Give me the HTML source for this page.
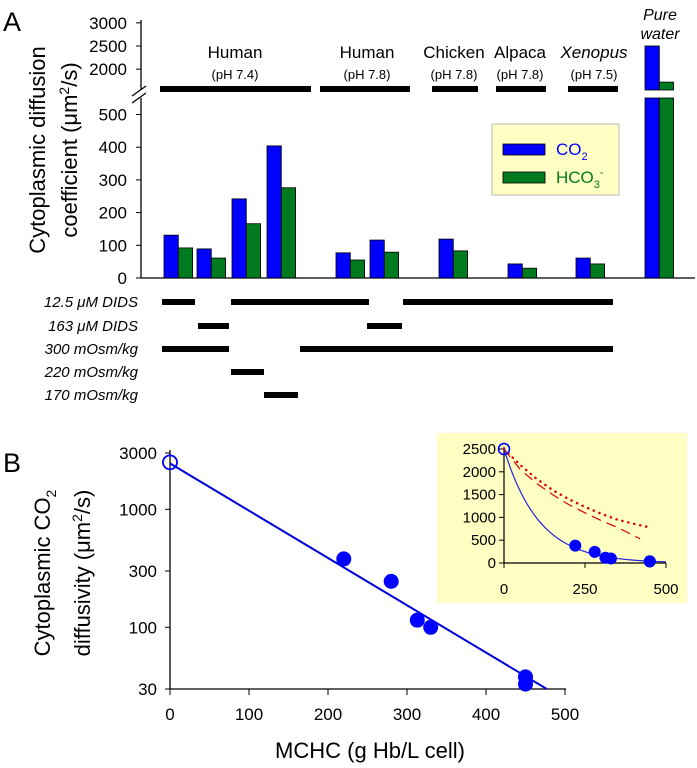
<!DOCTYPE html>
<html><head><meta charset="utf-8"><style>
html,body{margin:0;padding:0;background:#fff;}
svg{display:block;font-family:"Liberation Sans",Arial,sans-serif;}
</style></head><body>
<svg id="fig" width="697" height="768" viewBox="0 0 697 768" xmlns="http://www.w3.org/2000/svg">
<g id="pa"></g>
<g id="pb"></g>
<g id="pi"></g>
</svg>
<script>
// ---------- Panel A data ----------
const barGroupsX = [164,197,232,267,336,370,439,508,576,645]; // layout: left edge of each pair
const co2Values = [131,89,242,404,77,116,119,43,61,2500];
const hco3Values = [92,61,166,276,55,79,83,30,43,1720];
const lowerTicks = [0,100,200,300,400,500];
const upperTicks = [2000,2500,3000];
const groupLabels = ["Human","Human","Chicken","Alpaca","Xenopus"];
const groupSub = ["(pH 7.4)","(pH 7.8)","(pH 7.8)","(pH 7.8)","(pH 7.5)"];
const condLabels = ["12.5 \u03bcM DIDS","163 \u03bcM DIDS","300 mOsm/kg","220 mOsm/kg","170 mOsm/kg"];

// ---------- Panel B data ----------
const mchc = [220,280,313,330,450,450];
const dco2 = [380,245,115,100,38,33];
const waterPoint = [0,2500];
const bXTicks = [0,100,200,300,400,500];
const bYTicks = [30,100,300,1000,3000];
const fitLine = [[0,2450],[477,30]];
const insetXTicks = [0,250,500];
const insetYTicks = [0,500,1000,1500,2000,2500];
const insetDotted = [[0,2500],[50,2150],[100,1850],[150,1600],[200,1400],[250,1230],[300,1080],[350,950],[400,860],[450,780]];
const insetDashed = [[0,2500],[50,2050],[100,1750],[150,1500],[200,1280],[250,1100],[300,930],[350,780],[420,530]];

const NS="http://www.w3.org/2000/svg";
function el(parent,tag,attrs,text){const e=document.createElementNS(NS,tag);for(const k in attrs)e.setAttribute(k,attrs[k]);if(text!==undefined)e.textContent=text;parent.appendChild(e);return e;}

// ---------- Panel A ----------
const pa=document.getElementById('pa');
const yLow=v=>278-0.327*v;
const yUp=v=>46-(v-2500)*0.0463;
const BW=14.3;
let t=el(pa,'text',{x:3,y:31,'font-size':27},'A');

// y title
let yt=el(pa,'text',{transform:'translate(45,150) rotate(-90)','text-anchor':'middle','font-size':22},'Cytoplasmic diffusion');

let yt2=el(pa,'text',{transform:'translate(77,150) rotate(-90)','text-anchor':'middle','font-size':22});

yt2.innerHTML='coefficient (\u03bcm<tspan dy="-8" font-size="14">2</tspan><tspan dy="8">/s)</tspan>';
// axes
el(pa,'line',{x1:141,y1:98,x2:141,y2:278,stroke:'#000','stroke-width':1.3});
el(pa,'line',{x1:141,y1:20,x2:141,y2:90,stroke:'#000','stroke-width':1.3});
el(pa,'line',{x1:141,y1:278,x2:695,y2:278,stroke:'#000','stroke-width':1.3});
el(pa,'line',{x1:132,y1:96,x2:146,y2:86,stroke:'#000','stroke-width':1.3});
el(pa,'line',{x1:132,y1:103,x2:146,y2:93,stroke:'#000','stroke-width':1.3});
lowerTicks.forEach(v=>{el(pa,'line',{x1:136,y1:yLow(v),x2:141,y2:yLow(v),stroke:'#000'});
 const tx=el(pa,'text',{x:127,y:yLow(v)+6,'text-anchor':'end','font-size':17},String(v));
 });
upperTicks.forEach(v=>{el(pa,'line',{x1:136,y1:yUp(v),x2:141,y2:yUp(v),stroke:'#000'});
 const tx=el(pa,'text',{x:127,y:yUp(v)+6,'text-anchor':'end','font-size':17},String(v));
 });
// bars
function drawBar(x,v,color,name){
 if(v<=550){const r=el(pa,'rect',{x:x,y:yLow(v),width:BW,height:278-yLow(v),fill:color,stroke:'#000','stroke-width':0.8});
  }
 else{const r=el(pa,'rect',{x:x,y:98,width:BW,height:180,fill:color,stroke:'#000','stroke-width':0.8});
  
  const r2=el(pa,'rect',{x:x,y:yUp(v),width:BW,height:90-yUp(v),fill:color,stroke:'#000','stroke-width':0.8});
  }
}
barGroupsX.forEach((x,i)=>{drawBar(x,co2Values[i],'#0000ff','bar-co2');drawBar(x+BW,hco3Values[i],'#007a1e','bar-hco3');});
// group bars and labels
const grpSpans=[[160,311],[320,410],[432,478],[496,546],[568,618]];
grpSpans.forEach((s,i)=>{const r=el(pa,'rect',{x:s[0],y:86,width:s[1]-s[0],height:6,fill:'#000'});
 
 const c=[235,367,454,520,594][i];
 const a=el(pa,'text',{x:c,y:58,'text-anchor':'middle','font-size':17,'font-style':i===4?'italic':'normal'},groupLabels[i]);
 
 const b=el(pa,'text',{x:c,y:79,'text-anchor':'middle','font-size':13},groupSub[i]);
 });
let pw=el(pa,'text',{x:660,y:20,'text-anchor':'middle','font-size':16,'font-style':'italic'},'Pure');

let pw2=el(pa,'text',{x:660,y:39,'text-anchor':'middle','font-size':16,'font-style':'italic'},'water');

// legend
let lg=el(pa,'g',{});
el(lg,'rect',{x:492,y:124,width:127,height:71,fill:'#ffffc4',stroke:'#aaa','stroke-width':0.8});
el(lg,'rect',{x:503,y:144,width:42,height:11,fill:'#0000ff',stroke:'#000','stroke-width':0.8});
el(lg,'rect',{x:503,y:172,width:42,height:11,fill:'#007a1e',stroke:'#000','stroke-width':0.8});
let l1=el(lg,'text',{x:556,y:155,'font-size':17,fill:'#0000ff'});l1.innerHTML='CO<tspan dy="5" font-size="11">2</tspan>';

let l2=el(lg,'text',{x:556,y:183,'font-size':17,fill:'#007a1e'});l2.innerHTML='HCO<tspan dy="5" font-size="11">3</tspan><tspan dy="-12" font-size="11">-</tspan>';

// conditions
const condRowsY=[302,326,349,372,395];
const condSpans=[[[162,195],[231,369],[403,613]],[[198,229],[367,402]],[[162,229],[300,613]],[[231,264]],[[264,298]]];
condLabels.forEach((s,i)=>{const tx=el(pa,'text',{x:138,y:condRowsY[i]+5,'text-anchor':'end','font-size':15,'font-style':'italic'},s);
 
 condSpans[i].forEach(sp=>{const r=el(pa,'rect',{x:sp[0],y:condRowsY[i]-3,width:sp[1]-sp[0],height:6,fill:'#000'});
  });});

// ---------- Panel B ----------
const pb=document.getElementById('pb');
const bx=v=>170+0.79*v;
const by=v=>453+(Math.log10(3000)-Math.log10(v))*118;
let B=el(pb,'text',{x:3,y:472,'font-size':27},'B');
let bt=el(pb,'text',{transform:'translate(50,573) rotate(-90)','text-anchor':'middle','font-size':22});
bt.innerHTML='Cytoplasmic CO<tspan dy="6" font-size="14">2</tspan>';

let bt2=el(pb,'text',{transform:'translate(90,573) rotate(-90)','text-anchor':'middle','font-size':22});
bt2.innerHTML='diffusivity (\u03bcm<tspan dy="-8" font-size="14">2</tspan><tspan dy="8">/s)</tspan>';

el(pb,'line',{x1:170,y1:450,x2:170,y2:689,stroke:'#000','stroke-width':1.3});
el(pb,'line',{x1:170,y1:689,x2:566,y2:689,stroke:'#000','stroke-width':1.3});
bXTicks.forEach(v=>{el(pb,'line',{x1:bx(v),y1:689,x2:bx(v),y2:695,stroke:'#000'});
 const tx=el(pb,'text',{x:bx(v),y:720,'text-anchor':'middle','font-size':17},String(v));
 });
bYTicks.forEach(v=>{el(pb,'line',{x1:165,y1:by(v),x2:170,y2:by(v),stroke:'#000'});
 const tx=el(pb,'text',{x:157,y:by(v)+6,'text-anchor':'end','font-size':17},String(v));
 });
let xt=el(pb,'text',{x:370,y:758,'text-anchor':'middle','font-size':22},'MCHC (g Hb/L cell)');

let fl=el(pb,'line',{x1:bx(fitLine[0][0]),y1:by(fitLine[0][1]),x2:bx(fitLine[1][0]),y2:by(fitLine[1][1]),stroke:'#0000dd','stroke-width':2});

mchc.forEach((m,i)=>{const c=el(pb,'circle',{cx:bx(m),cy:by(dco2[i]),r:7.5,fill:'#0000ff'});
 });
let wp=el(pb,'circle',{cx:bx(waterPoint[0]),cy:by(waterPoint[1]),r:7,fill:'none',stroke:'#0000ff','stroke-width':1.8});


// ---------- Inset ----------
const pi=document.getElementById('pi');
const ix=v=>504+0.324*v;
const iy=v=>563-0.0456*v;
el(pi,'rect',{x:437,y:433,width:250,height:170,fill:'#ffffc4'});
el(pi,'line',{x1:504,y1:447,x2:504,y2:563,stroke:'#000','stroke-width':1.2});
el(pi,'line',{x1:504,y1:563,x2:666,y2:563,stroke:'#000','stroke-width':1.2});
insetXTicks.forEach(v=>{el(pi,'line',{x1:ix(v),y1:563,x2:ix(v),y2:568,stroke:'#000'});
 const tx=el(pi,'text',{x:ix(v),y:594,'text-anchor':'middle','font-size':15},String(v));
 });
insetYTicks.forEach(v=>{el(pi,'line',{x1:499,y1:iy(v),x2:504,y2:iy(v),stroke:'#000'});
 const tx=el(pi,'text',{x:496,y:iy(v)+5,'text-anchor':'end','font-size':15},String(v));
 });
let dp=el(pi,'polyline',{points:insetDotted.map(p=>ix(p[0])+','+iy(p[1])).join(' '),fill:'none',stroke:'#e00000','stroke-width':2.5,'stroke-dasharray':'0.1 6','stroke-linecap':'round'});

let dd=el(pi,'polyline',{points:insetDashed.map(p=>ix(p[0])+','+iy(p[1])).join(' '),fill:'none',stroke:'#e00000','stroke-width':1.2,'stroke-dasharray':'10 6'});

// blue fit curve through data: exponential with rate derived from fit line endpoints
const k=Math.log(fitLine[0][1]/fitLine[1][1])/(fitLine[1][0]-fitLine[0][0]);
let pts=[];for(let m=0;m<=500;m+=5)pts.push(ix(m)+','+iy(2500*Math.exp(-k*m)));
let bc=el(pi,'polyline',{points:pts.join(' '),fill:'none',stroke:'#2222dd','stroke-width':1.2});

mchc.forEach((m,i)=>{const c=el(pi,'circle',{cx:ix(m),cy:iy(dco2[i]),r:6,fill:'#0000ff'});
 });
let iw=el(pi,'circle',{cx:ix(waterPoint[0]),cy:iy(waterPoint[1]),r:5.5,fill:'none',stroke:'#0000ff','stroke-width':1.6});

</script>
</body></html>
